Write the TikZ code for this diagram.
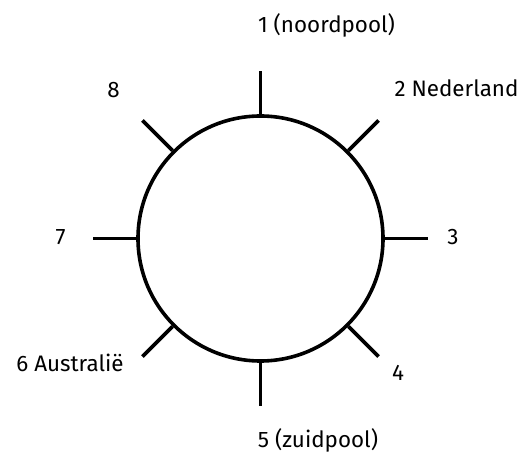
\documentclass[tikz,border=0pt]{standalone}
\usepackage{fontspec}
\setmainfont{Fira Sans}
\begin{document}
\begin{tikzpicture}[x=0.75pt,y=0.75pt,
    lbl/.style={inner sep=0pt,font=\fontsize{16.8}{20}\selectfont},
    tick/.style={line width=2.7pt}]
    \useasboundingbox (-260.5,-213.5) rectangle (263.5,238.5);
    \node[draw,circle,tick,minimum size=183.75pt,inner sep=0pt] (earth) at (0,0) {};
    \foreach \a in {0,45,...,315} {
        \coordinate (t\a) at (\a:167);
        \draw[tick] (earth.\a) -- (t\a);
    }
    \node[lbl,anchor=base] (l1) at (66,205.5) {1 (noordpool)};
    \node[lbl,anchor=base] (l2) at (196,141.5) {2 Nederland};
    \node[lbl,anchor=base] (l3) at (192.5,-6.5) {3};
    \node[lbl,anchor=base] (l4) at (137.5,-142.5) {4};
    \node[lbl,anchor=base] (l5) at (57.5,-208.5) {5 (zuidpool)};
    \node[lbl,anchor=base] (l6) at (-190.5,-133.5) {6 Australië};
    \node[lbl,anchor=base] (l7) at (-200,-6.5) {7};
    \node[lbl,anchor=base] (l8) at (-147,140.5) {8};
\end{tikzpicture}
\end{document}
